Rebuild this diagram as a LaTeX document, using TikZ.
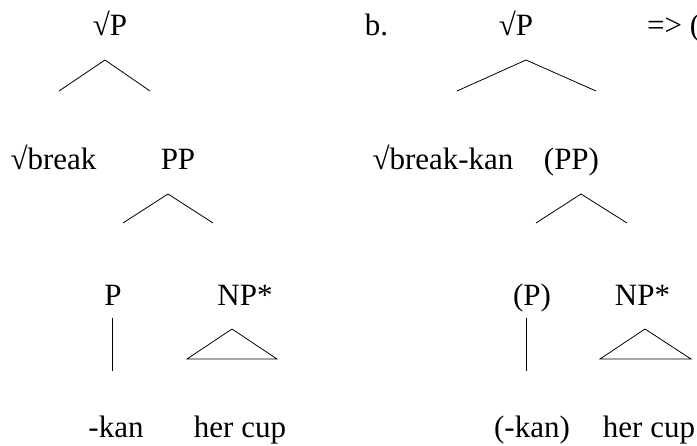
\documentclass[tikz,border=0pt]{standalone}
\usepackage{fontspec}
\setmainfont{Liberation Serif}
\begin{document}
\begin{tikzpicture}[x=1pt,y=-1pt,
  lbl/.style={inner sep=0pt,anchor=base,font=\fontsize{31}{36}\selectfont},
  br/.style={line width=0.8pt}]
\clip (0,0) rectangle (697,446);
\useasboundingbox (0,0) rectangle (697,446);
% ---- tree a ----
\node[lbl] (aroot) at (110,36) {√P};
\node[lbl] (abreak) at (53.5,170) {√break};
\node[lbl] (aPP) at (178,170) {PP};
\node[lbl] (aP) at (113,306) {P};
\node[lbl] (aNP) at (245,306) {NP*};
\node[lbl] (akan) at (116,438) {-kan};
\node[lbl] (acup) at (240,438) {her cup};
\coordinate (a1) at (105,60);
\coordinate (a1l) at (59,91);
\coordinate (a1r) at (150,91);
\draw[br] (a1l) -- (a1) -- (a1r);
\coordinate (a2) at (168,194);
\coordinate (a2l) at (123,223);
\coordinate (a2r) at (213,223);
\draw[br] (a2l) -- (a2) -- (a2r);
\coordinate (av1) at (112,318);
\coordinate (av2) at (112,371);
\draw[br] (av1) -- (av2);
\coordinate (at) at (232,329);
\coordinate (atl) at (187,359);
\coordinate (atr) at (277,359);
\draw[br] (atl) -- (at) -- (atr) -- cycle;
% ---- tree b ----
\node[lbl] (blabel) at (376.5,36) {b.};
\node[lbl] (broot) at (516,36) {√P};
\node[lbl,anchor=base west] (barrow) at (647,36) {=> (};
\node[lbl] (bbreak) at (443,170) {√break-kan};
\node[lbl] (bPP) at (571.5,170) {(PP)};
\node[lbl] (bP) at (532,306) {(P)};
\node[lbl] (bNP) at (642.5,306) {NP*};
\node[lbl] (bkan) at (532,438) {(-kan)};
\node[lbl] (bcup) at (649,438) {her cup};
\coordinate (b1) at (526,60);
\coordinate (b1l) at (457,91);
\coordinate (b1r) at (596,91);
\draw[br] (b1l) -- (b1) -- (b1r);
\coordinate (b2) at (581,194);
\coordinate (b2l) at (536,223);
\coordinate (b2r) at (627,223);
\draw[br] (b2l) -- (b2) -- (b2r);
\coordinate (bv1) at (526,318);
\coordinate (bv2) at (526,371);
\draw[br] (bv1) -- (bv2);
\coordinate (bt) at (645,329);
\coordinate (btl) at (600,359);
\coordinate (btr) at (691,359);
\draw[br] (btl) -- (bt) -- (btr) -- cycle;
\end{tikzpicture}
\end{document}
